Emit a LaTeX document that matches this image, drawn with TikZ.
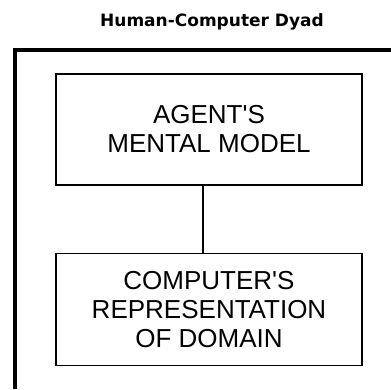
\documentclass[tikz,border=0pt]{standalone}
\usepackage{fontspec}
\setmainfont{Liberation Sans}
\newfontfamily\titlefont{DejaVu Sans}
\usetikzlibrary{positioning}

\tikzset{
	modelbox/.style={draw, line width=1.6pt, minimum width=306pt, align=center,
		font=\fontsize{26}{29}\selectfont, inner sep=0pt},
	frameline/.style={line width=3.5pt},
	link/.style={line width=1.8pt}
}

\begin{document}
\begin{tikzpicture}[x=1pt,y=-1pt]
	\useasboundingbox (0,0) rectangle (391,389);
	\node (dyad) at (212,22) {\titlefont\bfseries\fontsize{17}{19}\selectfont Human-Computer Dyad};
	
	\coordinate (fbl) at (15,389);
	\coordinate (ftl) at (15,50);
	\coordinate (ftr) at (391,50);
	\draw[frameline] (fbl) -- (ftl) -- (ftr);
	
	\node[modelbox, minimum height=111pt] (mental) at (209,129.5) {AGENT\textquotesingle S\\MENTAL MODEL};
	\node[modelbox, minimum height=112pt, below=67pt of mental] (domain) {COMPUTER\textquotesingle S\\REPRESENTATION\\OF DOMAIN};
	\draw[link] ([xshift=-6pt]mental.south) -- ([xshift=-6pt]domain.north);
\end{tikzpicture}
\end{document}
